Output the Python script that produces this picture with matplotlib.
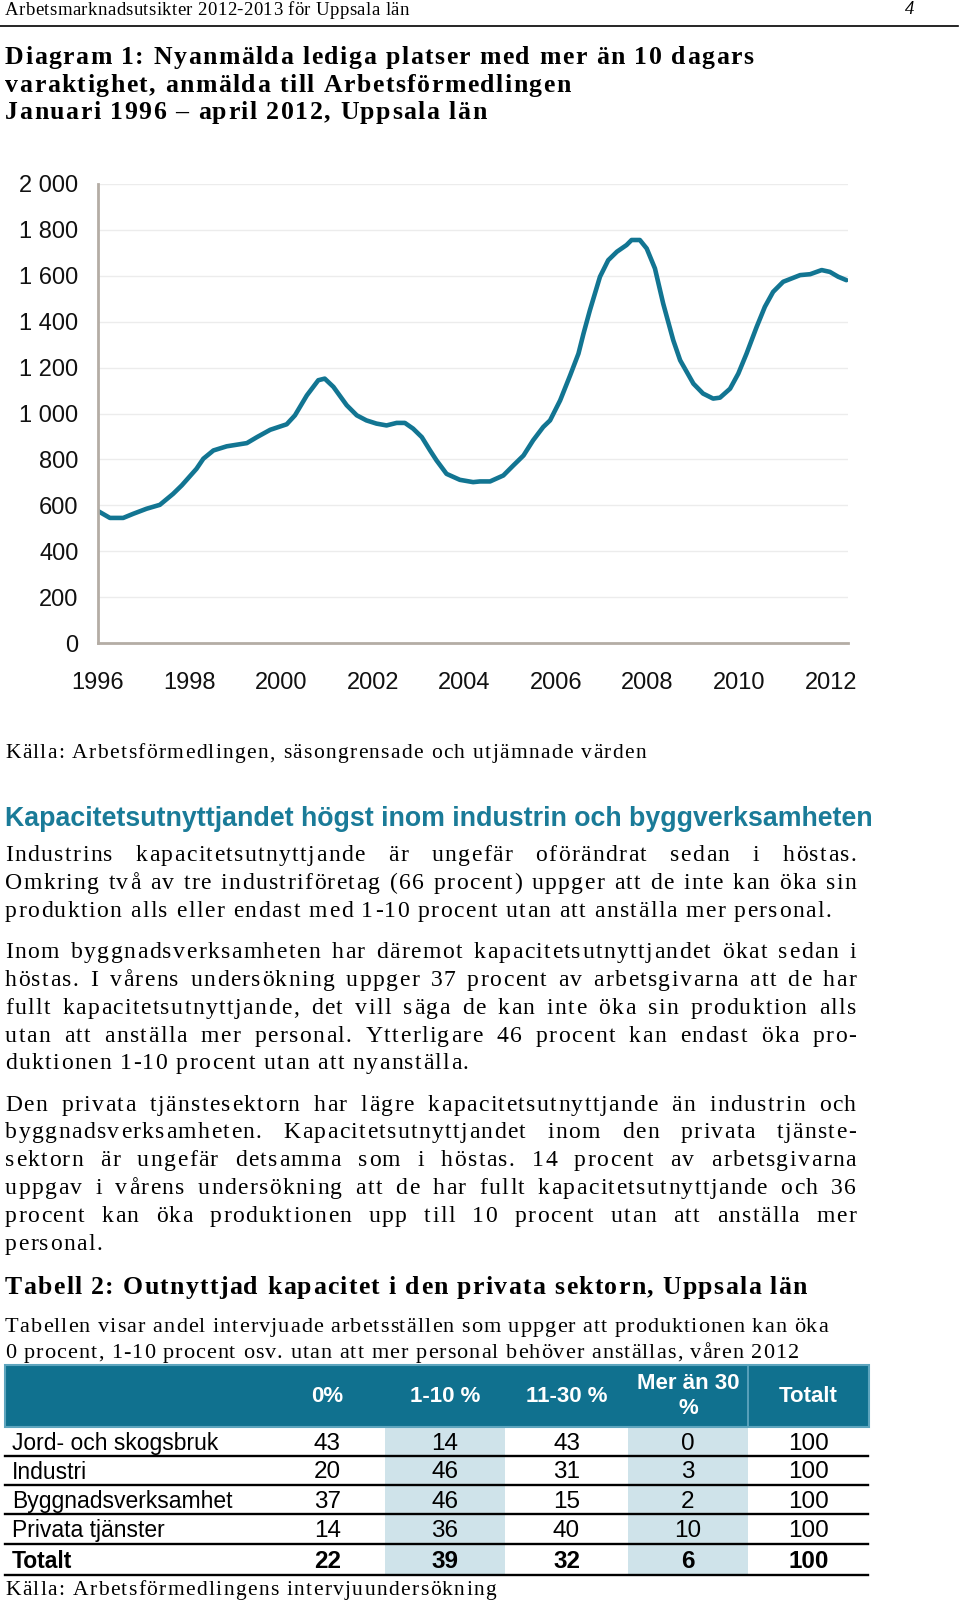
import matplotlib
matplotlib.use("Agg")
import matplotlib.pyplot as plt
from matplotlib.font_manager import FontProperties
from matplotlib.patches import Rectangle

# ---- data ----
# line: nyanmälda lediga platser (decimal year, count)
years = [1996.0, 1996.26, 1996.55, 1996.77, 1997.06, 1997.35, 1997.64, 1997.83,
         1998.15, 1998.30, 1998.52, 1998.81, 1999.25, 1999.47, 1999.76, 2000.12,
         2000.30, 2000.56, 2000.81, 2000.95, 2001.14, 2001.43, 2001.65, 2001.86,
         2002.08, 2002.30, 2002.52, 2002.70, 2002.88, 2003.07, 2003.25, 2003.39,
         2003.61, 2003.90, 2004.19, 2004.34, 2004.56, 2004.85, 2005.07, 2005.29,
         2005.50, 2005.72, 2005.87, 2006.09, 2006.31, 2006.49, 2006.60, 2006.74,
         2006.96, 2007.14, 2007.33, 2007.54, 2007.65, 2007.83, 2007.98, 2008.16,
         2008.34, 2008.56, 2008.71, 2009.00, 2009.21, 2009.43, 2009.58, 2009.80,
         2009.98, 2010.16, 2010.38, 2010.56, 2010.74, 2010.96, 2011.33, 2011.55,
         2011.80, 2011.98, 2012.16, 2012.34]
values = [575, 545, 545, 563, 585, 602, 650, 687,
          759, 803, 839, 857, 871, 897, 929, 953,
          992, 1079, 1145, 1152, 1116, 1036, 992, 970,
          956, 948, 959, 959, 934, 897, 839, 796,
          737, 711, 701, 704, 704, 730, 774, 817,
          883, 941, 970, 1057, 1167, 1261, 1348, 1450,
          1596, 1668, 1705, 1734, 1756, 1756, 1719, 1632,
          1479, 1319, 1232, 1130, 1087, 1065, 1069, 1108,
          1174, 1261, 1377, 1465, 1530, 1574, 1603, 1607,
          1625, 1617, 1596, 1581]
y_ticks = [0, 200, 400, 600, 800, 1000, 1200, 1400, 1600, 1800, 2000]
y_labels = ["0", "200", "400", "600", "800", "1 000", "1 200", "1 400", "1 600", "1 800", "2 000"]
x_ticks = [1996, 1998, 2000, 2002, 2004, 2006, 2008, 2010, 2012]
x_labels = [str(y) for y in x_ticks]

table_cols = ["0%", "1-10 %", "11-30 %", "Mer än 30\n%", "Totalt"]
table_rows = ["Jord- och skogsbruk", "Industri", "Byggnadsverksamhet", "Privata tjänster", "Totalt"]
table_vals = [[43, 14, 43, 0, 100],
              [20, 46, 31, 3, 100],
              [37, 46, 15, 2, 100],
              [14, 36, 40, 10, 100],
              [22, 39, 32, 6, 100]]

header_txt = "Arbetsmarknadsutsikter 2012-2013 för Uppsala län"
title_lines = ["Diagram 1: Nyanmälda lediga platser med mer än 10 dagars",
               "varaktighet, anmälda till Arbetsförmedlingen",
               "Januari 1996 – april 2012, Uppsala län"]
source1 = "Källa: Arbetsförmedlingen, säsongrensade och utjämnade värden"
heading = "Kapacitetsutnyttjandet högst inom industrin och byggverksamheten"
# (text, justified?)
body = [
    ("Industrins kapacitetsutnyttjande är ungefär oförändrat sedan i höstas.", True),
    ("Omkring två av tre industriföretag (66 procent) uppger att de inte kan öka sin", True),
    ("produktion alls eller endast med 1-10 procent utan att anställa mer personal.", False),
    ("Inom byggnadsverksamheten har däremot kapacitetsutnyttjandet ökat sedan i", True),
    ("höstas. I vårens undersökning uppger 37 procent av arbetsgivarna att de har", True),
    ("fullt kapacitetsutnyttjande, det vill säga de kan inte öka sin produktion alls", True),
    ("utan att anställa mer personal. Ytterligare 46 procent kan endast öka pro-", True),
    ("duktionen 1-10 procent utan att nyanställa.", False),
    ("Den privata tjänstesektorn har lägre kapacitetsutnyttjande än industrin och", True),
    ("byggnadsverksamheten. Kapacitetsutnyttjandet inom den privata tjänste-", True),
    ("sektorn är ungefär detsamma som i höstas. 14 procent av arbetsgivarna", True),
    ("uppgav i vårens undersökning att de har fullt kapacitetsutnyttjande och 36", True),
    ("procent kan öka produktionen upp till 10 procent utan att anställa mer", True),
    ("personal.", False),
]
body_y = [854, 882, 910, 951, 979, 1007, 1035, 1062, 1104, 1131, 1159, 1187, 1215, 1243]
tab_title = "Tabell 2: Outnyttjad kapacitet i den privata sektorn, Uppsala län"
tab_desc = ["Tabellen visar andel intervjuade arbetsställen som uppger att produktionen kan öka",
            "0 procent, 1-10 procent osv. utan att mer personal behöver anställas, våren 2012"]
tab_source = "Källa: Arbetsförmedlingens intervjuundersökning"

TEAL = "#10718f"
LIGHT = "#cfe3ea"

W, H = 960, 1603
fig = plt.figure(figsize=(W / 100, H / 100), dpi=100)
page = fig.add_axes([0, 0, 1, 1])
page.set_xlim(0, W)
page.set_ylim(H, 0)
page.axis("off")
renderer = fig.canvas.get_renderer()


def fp(family, size, weight="normal", style="normal"):
    return FontProperties(family=family, size=size, weight=weight, style=style)


_adv = {}


def advance(ch, prop):
    key = (ch, prop.get_family()[0], prop.get_size_in_points(), prop.get_weight())
    if key not in _adv:
        w1 = renderer.get_text_width_height_descent("n" + ch + "n", prop, ismath=False)[0]
        w0 = renderer.get_text_width_height_descent("nn", prop, ismath=False)[0]
        _adv[key] = w1 - w0
    return _adv[key]


def fit_track(text, prop, width):
    nat = sum(advance(c, prop) for c in text)
    return (width - nat) / (len(text) - 1)


def tracked(x, yc, text, prop, track, right=None, color="black"):
    # letter-spaced text, drawn one glyph at a time, optionally justified
    base = yc + 0.3 * prop.get_size_in_points() * 100 / 72
    words = text.split(" ")
    widths = [sum(advance(c, prop) + track for c in w) for w in words]
    if right is not None and len(words) > 1:
        gap = (right - x + track - sum(widths)) / (len(words) - 1)
    else:
        gap = advance(" ", prop) + track
    cx = x
    for w in words:
        for c in w:
            page.text(cx, base, c, fontproperties=prop, color=color,
                      ha="left", va="baseline")
            cx += advance(c, prop) + track
        cx += gap


# ---- page header ----
p = fp("Liberation Serif", 13.5)
tracked(5, 9, header_txt, p, fit_track(header_txt, p, 404))
page.text(910, 10, "4", fontproperties=fp("Liberation Serif", 13.5, style="italic"),
          ha="center", va="center")
page.plot([0, 958], [25.5, 25.5], color="black", lw=1.2)

# ---- chart title ----
p = fp("Liberation Serif", 18.5, "bold")
t = fit_track(title_lines[0], p, 748)
for line, yc in zip(title_lines, [56, 84, 111]):
    tracked(5, yc, line, p, t)

# ---- chart ----
ax = fig.add_axes([98 / W, 1 - 643 / H, 750 / W, 459 / H])
ax.set_facecolor("none")
ax.plot(years, values, color="#127592", lw=3.3, solid_capstyle="round")
ax.set_xlim(1996, 2012.375)
ax.set_ylim(0, 2000)
ax.set_yticks(y_ticks, y_labels)
ax.set_xticks(x_ticks, x_labels)
ax.tick_params(length=0, labelsize=17, colors="#111111")
ax.tick_params(axis="y", pad=14)
ax.tick_params(axis="x", pad=21)
for lab in ax.get_xticklabels() + ax.get_yticklabels():
    lab.set_fontfamily("Liberation Sans")
ax.yaxis.grid(True, color="#ececec", lw=1)
ax.set_axisbelow(True)
for s in ["top", "right"]:
    ax.spines[s].set_visible(False)
for s in ["left", "bottom"]:
    ax.spines[s].set_color("#b4ada5")
    ax.spines[s].set_linewidth(2)

# ---- text below the chart ----
p = fp("Liberation Serif", 15.5)
tracked(5, 752, source1, p, fit_track(source1, p, 641))

hp = fp("Liberation Sans", 17, "bold")
hw = renderer.get_text_width_height_descent(heading, hp, ismath=False)[0]
hp.set_size(17 * 872 / hw)
page.text(5, 819, heading, fontproperties=hp, color="#1a7b98", ha="left", va="center")

p = fp("Liberation Serif", 17)
t = fit_track(body[2][0], p, 826)
for (line, just), yc in zip(body, body_y):
    tracked(5, yc, line, p, t, right=856 if just else None)

p = fp("Liberation Serif", 18.5, "bold")
tracked(5, 1286, tab_title, p, fit_track(tab_title, p, 802))

p = fp("Liberation Serif", 16)
t = fit_track(tab_desc[0], p, 823)
tracked(5, 1325, tab_desc[0], p, t)
tracked(5, 1351, tab_desc[1], p, t)

# ---- table ----
col_edges = [5, 270, 385, 505, 628, 748, 869]
head_top, head_bot = 1365, 1427
row_lines = [1456, 1485, 1514, 1544, 1575]

for i in (2, 4):
    page.add_patch(Rectangle((col_edges[i], head_bot), col_edges[i + 1] - col_edges[i],
                             row_lines[-1] - head_bot, fc=LIGHT, ec="none"))
page.add_patch(Rectangle((col_edges[0], head_top), col_edges[-1] - col_edges[0],
                         head_bot - head_top, fc=TEAL, ec="#5ea5be", lw=1.5))
page.plot([col_edges[5], col_edges[5]], [head_top, head_bot], color="#5ea5be", lw=1.3)

hfp = fp("Liberation Sans", 16, "bold")
for j, lab in enumerate(table_cols):
    cx = (col_edges[j + 1] + col_edges[j + 2]) / 2
    page.text(cx, (head_top + head_bot) / 2, lab, fontproperties=hfp, color="white",
              ha="center", va="center", linespacing=1.25)

tops = [head_bot] + row_lines[:-1]
for i, (name, vals) in enumerate(zip(table_rows, table_vals)):
    yc = (tops[i] + row_lines[i]) / 2 + 2
    rp = fp("Liberation Sans", 16.5, "bold" if name == "Totalt" else "normal")
    vp = fp("Liberation Sans", 17.5, "bold" if name == "Totalt" else "normal")
    page.text(12, yc, name, fontproperties=rp, ha="left", va="center")
    for j, v in enumerate(vals):
        cx = (col_edges[j + 1] + col_edges[j + 2]) / 2
        page.text(cx, yc, str(v), fontproperties=vp, ha="center", va="center")
    page.plot([5, 868], [row_lines[i], row_lines[i]], color="black", lw=1.7)

p = fp("Liberation Serif", 15.5)
tracked(5, 1589, tab_source, p, fit_track(tab_source, p, 491))

fig.savefig("out.png", dpi=100)
